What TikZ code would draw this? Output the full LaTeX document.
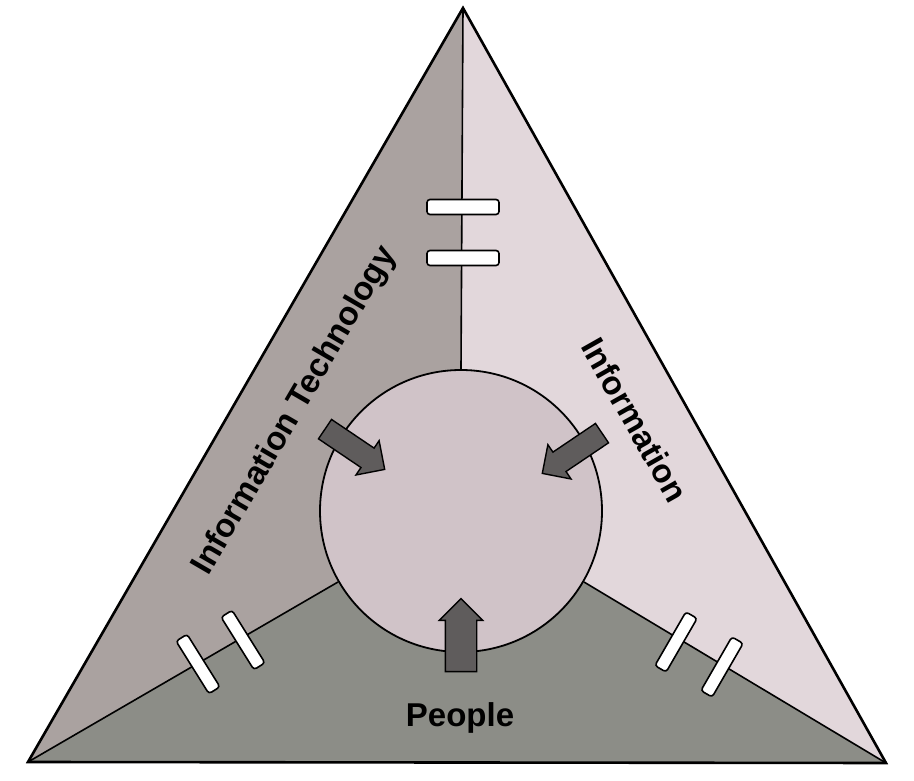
\documentclass[tikz,border=0pt]{standalone}
\usepackage{fontspec}
\setmainfont{Liberation Sans}
\usetikzlibrary{shapes.arrows}
\definecolor{leftgray}{RGB}{170,162,160}
\definecolor{rightpink}{RGB}{226,215,219}
\definecolor{bottomgray}{RGB}{140,141,135}
\definecolor{circlepink}{RGB}{208,195,200}
\definecolor{arrowgray}{RGB}{95,92,92}
\begin{document}
\begin{tikzpicture}[x=1pt,y=1pt,
  bar/.style={draw=black,line width=1.6pt,fill=white,rounded corners=3pt,minimum width=62pt,minimum height=13pt,inner sep=0pt},
  hbar/.style={bar,minimum width=72pt,minimum height=15pt},
  blockarrow/.style={single arrow,draw=black,line width=1.4pt,fill=arrowgray,inner xsep=0pt,inner ysep=11pt,minimum height=72pt,single arrow head extend=9pt,single arrow head indent=0pt},
  lbl/.style={font=\bfseries\fontsize{33}{33}\selectfont,inner sep=0pt}]
\useasboundingbox (0,0) rectangle (914,780);
\fill[white] (0,0) rectangle (914,780);
\coordinate (T) at (463,772);
\coordinate (BL) at (28,18);
\coordinate (BR) at (886,17);
\coordinate (C) at (461,269);
\def\R{141}
% regions
\fill[leftgray] (T) -- (BL) -- ([shift={(C)}]210:\R) arc[start angle=210,end angle=90,radius=\R] -- cycle;
\fill[rightpink] (T) -- ([shift={(C)}]90:\R) arc[start angle=90,end angle=-30,radius=\R] -- (BR) -- cycle;
\fill[bottomgray] (BL) -- (BR) -- ([shift={(C)}]-30:\R) arc[start angle=-30,end angle=-150,radius=\R] -- cycle;
\node[circle,fill=circlepink,draw=black,line width=1.8pt,minimum size=282pt,inner sep=0pt] (circ) at (C) {};
% divider lines
\draw[line width=1.6pt] (T) -- (circ.90);
\draw[line width=1.6pt] (BL) -- (circ.210);
\draw[line width=1.6pt] (BR) -- (circ.-30);
% triangle outline
\draw[line width=2.6pt,line join=miter] (T) -- (BL) -- (BR) -- cycle;
% bars
\node[hbar] (tb1) at (463,573) {};
\node[hbar] (tb2) at (463,522) {};
\node[bar,rotate=-58] (lb1) at (198,116) {};
\node[bar,rotate=-58] (lb2) at (243,140) {};
\node[bar,rotate=60] (rb1) at (676,138) {};
\node[bar,rotate=60] (rb2) at (722,113) {};
% arrows
\node[blockarrow,rotate=-34] (la) at (350,334) {};
\node[blockarrow,rotate=-146] (ra) at (577,330) {};
\node[blockarrow,rotate=90,inner ysep=15pt,single arrow head extend=6pt,minimum height=73pt] (ba) at (461,137) {};
% labels
\node[lbl,rotate=59.8] (lit) at (295,369) {Information Technology};
\node[lbl,rotate=-60.5] (linfo) at (635,360) {Information};
\node[lbl] (lpeople) at (460,62) {People};
\end{tikzpicture}
\end{document}
